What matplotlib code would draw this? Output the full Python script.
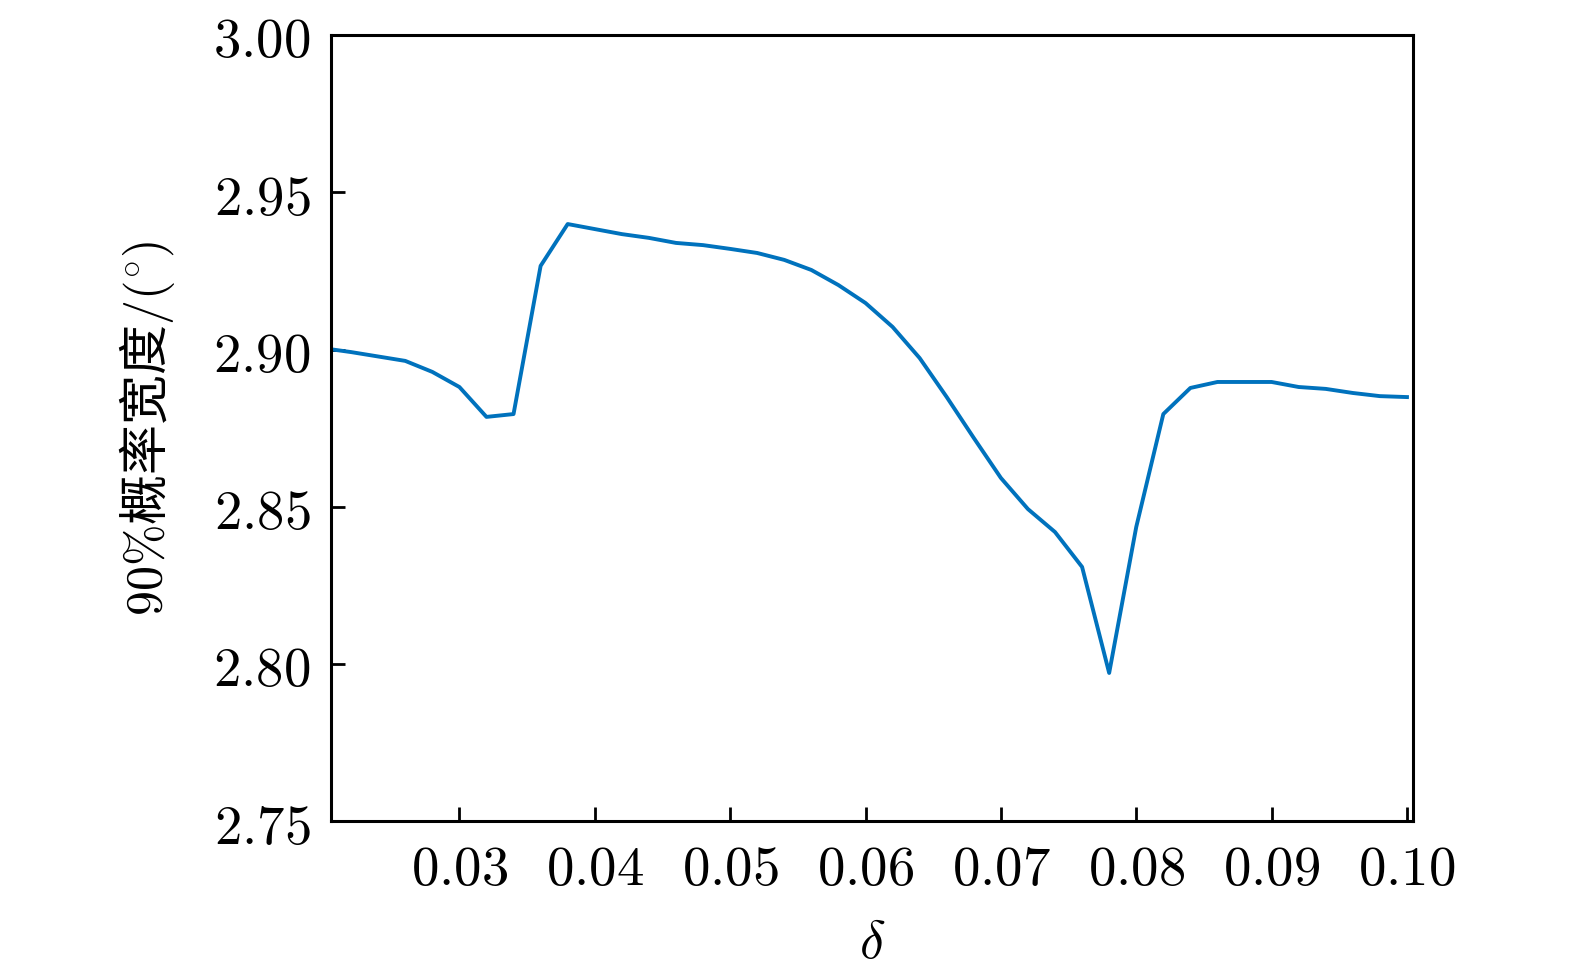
import numpy as np
import matplotlib
matplotlib.use('Agg')
import matplotlib.pyplot as plt
from matplotlib.ticker import FuncFormatter

plt.rcParams['mathtext.fontset'] = 'cm'
plt.rcParams['font.family'] = ['Noto Sans CJK SC', 'DejaVu Sans']

# delta values and the 90% probability width (deg)
delta = [0.020, 0.022, 0.024, 0.026, 0.028, 0.030, 0.032, 0.034, 0.036, 0.038,
         0.040, 0.042, 0.044, 0.046, 0.048, 0.050, 0.052, 0.054, 0.056, 0.058,
         0.060, 0.062, 0.064, 0.066, 0.068, 0.070, 0.072, 0.074, 0.076, 0.078,
         0.080, 0.082, 0.084, 0.086, 0.088, 0.090, 0.092, 0.094, 0.096, 0.098,
         0.100]
width90 = [2.9004, 2.8992, 2.8978, 2.8964, 2.8929, 2.8881, 2.8786, 2.8795, 2.9266, 2.9399,
           2.9383, 2.9367, 2.9355, 2.9339, 2.9332, 2.9320, 2.9307, 2.9285, 2.9253, 2.9205,
           2.9148, 2.9072, 2.8973, 2.8849, 2.8719, 2.8592, 2.8493, 2.8420, 2.8309, 2.7972,
           2.8436, 2.8795, 2.8878, 2.8897, 2.8897, 2.8897, 2.8881, 2.8875, 2.8862, 2.8852,
           2.8849]

xticks = [0.03, 0.04, 0.05, 0.06, 0.07, 0.08, 0.09, 0.10]
yticks = [2.75, 2.80, 2.85, 2.90, 2.95, 3.00]

fig = plt.figure(figsize=(15.75, 9.74), dpi=100)
ax = fig.add_axes([0.2102, 0.1566, 0.6869, 0.8075])

ax.plot(delta, width90, color='#0072BD', lw=2.8)

ax.set_xlim(0.02052, 0.10044)
ax.set_ylim(2.75, 3.00)
ax.set_xticks(xticks)
ax.set_yticks(yticks)
fmt = FuncFormatter(lambda v, p: f'${v:.2f}$')
ax.xaxis.set_major_formatter(fmt)
ax.yaxis.set_major_formatter(fmt)
ax.tick_params(direction='in', length=10, width=2, labelsize=39.5,
               top=False, right=False)
ax.tick_params(axis='x', pad=14)
ax.tick_params(axis='y', pad=15)
for s in ax.spines.values():
    s.set_linewidth(2.2)

ax.set_xlabel(r'$\delta$', fontsize=39, labelpad=12)
ax.set_ylabel(r'$90\%$概率宽度$/(^{\circ})$', fontsize=36, labelpad=26)

fig.savefig('out.png', dpi=100)
